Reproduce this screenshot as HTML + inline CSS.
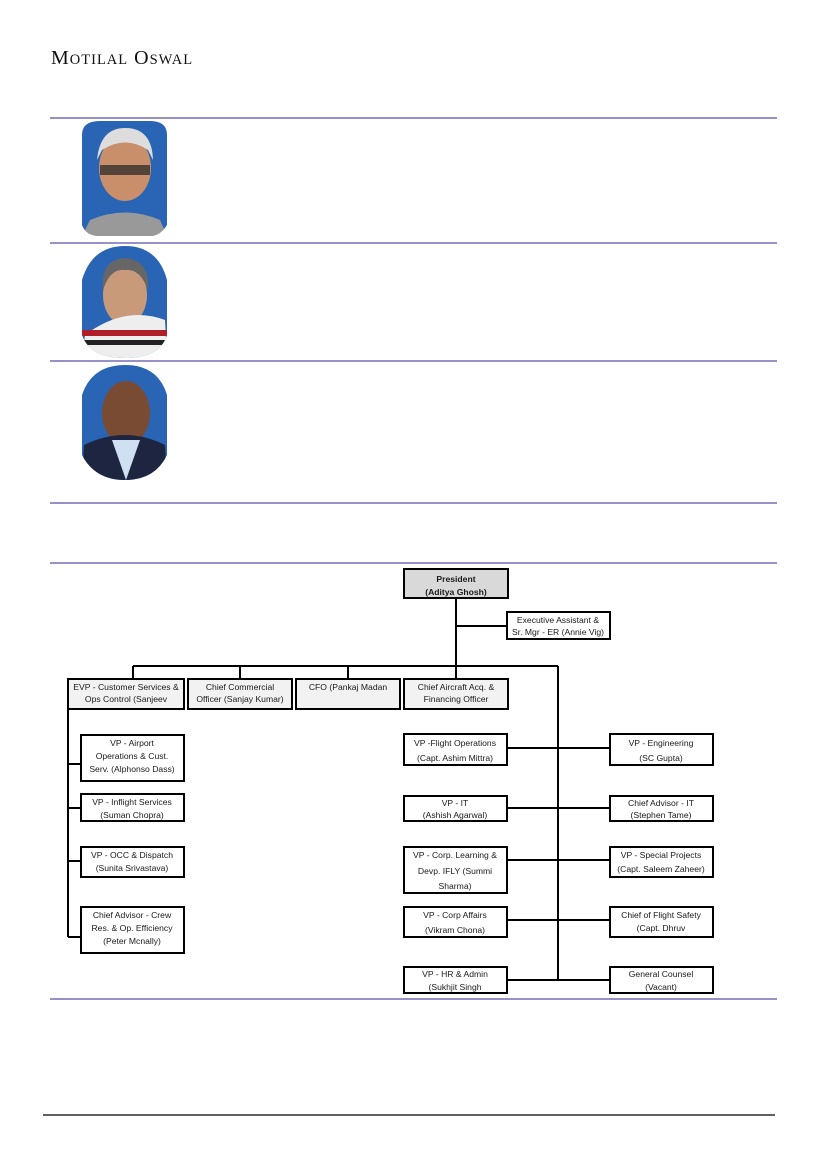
<!DOCTYPE html>
<html><head><meta charset="utf-8"><style>
html,body{margin:0;padding:0;background:#fff;}
svg{display:block}
text{font-family:"Liberation Sans",sans-serif;font-size:8.6px;fill:#1a1a1a;}
.b{fill:#fff;stroke:#000;stroke-width:2}
.g{fill:#f2f2f2;stroke:#000;stroke-width:2}
.l{stroke:#000;stroke-width:2;fill:none}
.r{stroke:#5a4fa8;stroke-width:1.3}
</style></head><body>
<svg width="827" height="1169" viewBox="0 0 827 1169" xmlns="http://www.w3.org/2000/svg">
<text x="51" y="64" style="font-family:'Liberation Serif',serif;font-size:20px;fill:#111;letter-spacing:1px">M<tspan style="font-size:14.5px">OTILAL</tspan> O<tspan style="font-size:14.5px">SWAL</tspan></text>
<g class="r">
<line x1="50" y1="118" x2="777" y2="118"/>
<line x1="50" y1="243" x2="777" y2="243"/>
<line x1="50" y1="361" x2="777" y2="361"/>
<line x1="50" y1="503" x2="777" y2="503"/>
<line x1="50" y1="563" x2="777" y2="563"/>
<line x1="50" y1="999" x2="777" y2="999"/>
</g>
<line x1="43" y1="1115" x2="775" y2="1115" stroke="#000" stroke-width="1.3"/>
<defs>
<clipPath id="p1"><path d="M82 135 Q82 121 100 121 L150 121 Q167 121 167 135 L167 225 Q160 236 150 236 L100 236 Q86 236 82 225Z"/></clipPath>
<clipPath id="p2"><path d="M82 280 Q92 246 125 246 Q158 246 167 280 L167 335 Q160 358 125 358 Q90 358 82 335Z"/></clipPath>
<clipPath id="p3"><path d="M82 395 Q92 365 125 365 Q158 365 167 395 L167 455 Q155 480 125 480 Q95 480 82 455Z"/></clipPath>
</defs>
<g clip-path="url(#p1)"><rect x="82" y="121" width="85" height="115" fill="#2a65b5"/>
<ellipse cx="125" cy="168" rx="26" ry="33" fill="#c98f6b"/><path d="M97 160 Q100 128 125 128 Q152 128 153 160 L148 150 Q125 135 102 150Z" fill="#ddd"/>
<rect x="100" y="165" width="50" height="10" fill="#222" opacity=".7"/>
<path d="M82 236 L90 220 Q125 205 160 220 L167 236Z" fill="#999"/></g>
<g clip-path="url(#p2)"><rect x="82" y="246" width="85" height="112" fill="#2a65b5"/>
<ellipse cx="125" cy="295" rx="22" ry="30" fill="#c99a7a"/><path d="M103 290 Q100 260 125 258 Q150 260 148 290 Q140 268 125 270 Q110 268 103 290Z" fill="#666"/>
<path d="M82 358 L85 335 Q125 305 165 320 L167 358Z" fill="#eee"/>
<rect x="82" y="330" width="85" height="6" fill="#b01e2a"/><rect x="82" y="340" width="85" height="5" fill="#222"/></g>
<g clip-path="url(#p3)"><rect x="82" y="365" width="85" height="115" fill="#2a65b5"/>
<ellipse cx="126" cy="413" rx="24" ry="32" fill="#7a4b33"/>
<path d="M82 480 L84 445 Q125 425 165 445 L167 480Z" fill="#1d2540"/><path d="M112 440 L126 480 L140 440Z" fill="#cfe0f3"/></g>
<g class="l">
<line x1="456" y1="598" x2="456" y2="679"/>
<line x1="456" y1="626" x2="507" y2="626"/>
<line x1="133" y1="666" x2="558" y2="666"/>
<line x1="133" y1="666" x2="133" y2="679"/>
<line x1="240" y1="666" x2="240" y2="679"/>
<line x1="348" y1="666" x2="348" y2="679"/>
<line x1="558" y1="666" x2="558" y2="980"/>
<line x1="68" y1="709" x2="68" y2="937"/>
<line x1="68" y1="764" x2="81" y2="764"/>
<line x1="68" y1="808" x2="81" y2="808"/>
<line x1="68" y1="861" x2="81" y2="861"/>
<line x1="68" y1="937" x2="81" y2="937"/>
<line x1="507" y1="748" x2="610" y2="748"/>
<line x1="507" y1="808" x2="610" y2="808"/>
<line x1="507" y1="860" x2="610" y2="860"/>
<line x1="507" y1="920" x2="610" y2="920"/>
<line x1="507" y1="980" x2="610" y2="980"/>
</g>
<rect x="404" y="569" width="104" height="29" fill="#d9d9d9" stroke="#000" stroke-width="2"/>
<text x="456" y="582" text-anchor="middle" font-weight="bold">President</text>
<text x="456" y="595" text-anchor="middle" font-weight="bold">(Aditya Ghosh)</text>
<rect class="b" x="507" y="612" width="103" height="27"/>
<text x="558" y="623" text-anchor="middle">Executive Assistant &amp;</text>
<text x="558" y="635" text-anchor="middle">Sr. Mgr - ER (Annie Vig)</text>
<rect class="g" x="68" y="679" width="116" height="30"/>
<text x="126" y="690" text-anchor="middle">EVP - Customer Services &amp;</text>
<text x="126" y="702" text-anchor="middle">Ops Control (Sanjeev</text>
<rect class="g" x="188" y="679" width="104" height="30"/>
<text x="240" y="690" text-anchor="middle">Chief Commercial</text>
<text x="240" y="702" text-anchor="middle">Officer (Sanjay Kumar)</text>
<rect class="g" x="296" y="679" width="104" height="30"/>
<text x="348" y="690" text-anchor="middle">CFO (Pankaj Madan</text>
<rect class="g" x="404" y="679" width="104" height="30"/>
<text x="456" y="690" text-anchor="middle">Chief Aircraft Acq. &amp;</text>
<text x="456" y="702" text-anchor="middle">Financing Officer</text>
<rect class="b" x="81" y="735" width="103" height="46"/>
<text x="132" y="746" text-anchor="middle">VP - Airport</text>
<text x="132" y="759" text-anchor="middle">Operations &amp; Cust.</text>
<text x="132" y="772" text-anchor="middle">Serv. (Alphonso Dass)</text>
<rect class="b" x="81" y="794" width="103" height="27"/>
<text x="132" y="805" text-anchor="middle">VP - Inflight Services</text>
<text x="132" y="818" text-anchor="middle">(Suman Chopra)</text>
<rect class="b" x="81" y="847" width="103" height="30"/>
<text x="132" y="858" text-anchor="middle">VP - OCC &amp; Dispatch</text>
<text x="132" y="871" text-anchor="middle">(Sunita Srivastava)</text>
<rect class="b" x="81" y="907" width="103" height="46"/>
<text x="132" y="918" text-anchor="middle">Chief Advisor - Crew</text>
<text x="132" y="931" text-anchor="middle">Res. &amp; Op. Efficiency</text>
<text x="132" y="944" text-anchor="middle">(Peter Mcnally)</text>
<rect class="b" x="404" y="734" width="103" height="31"/>
<text x="455" y="746" text-anchor="middle">VP -Flight Operations</text>
<text x="455" y="761" text-anchor="middle">(Capt. Ashim Mittra)</text>
<rect class="b" x="404" y="796" width="103" height="25"/>
<text x="455" y="806" text-anchor="middle">VP - IT</text>
<text x="455" y="818" text-anchor="middle">(Ashish Agarwal)</text>
<rect class="b" x="404" y="847" width="103" height="46"/>
<text x="455" y="858" text-anchor="middle">VP  - Corp. Learning &amp;</text>
<text x="455" y="874" text-anchor="middle">Devp. IFLY (Summi</text>
<text x="455" y="889" text-anchor="middle">Sharma)</text>
<rect class="b" x="404" y="907" width="103" height="30"/>
<text x="455" y="918" text-anchor="middle">VP - Corp Affairs</text>
<text x="455" y="933" text-anchor="middle">(Vikram Chona)</text>
<rect class="b" x="404" y="967" width="103" height="26"/>
<text x="455" y="977" text-anchor="middle">VP - HR &amp; Admin</text>
<text x="455" y="990" text-anchor="middle">(Sukhjit Singh</text>
<rect class="b" x="610" y="734" width="103" height="31"/>
<text x="661" y="746" text-anchor="middle">VP - Engineering</text>
<text x="661" y="761" text-anchor="middle">(SC Gupta)</text>
<rect class="b" x="610" y="796" width="103" height="25"/>
<text x="661" y="806" text-anchor="middle">Chief Advisor - IT</text>
<text x="661" y="818" text-anchor="middle">(Stephen Tame)</text>
<rect class="b" x="610" y="847" width="103" height="30"/>
<text x="661" y="858" text-anchor="middle">VP - Special Projects</text>
<text x="661" y="872" text-anchor="middle">(Capt. Saleem Zaheer)</text>
<rect class="b" x="610" y="907" width="103" height="30"/>
<text x="661" y="918" text-anchor="middle">Chief of Flight Safety</text>
<text x="661" y="931" text-anchor="middle">(Capt. Dhruv</text>
<rect class="b" x="610" y="967" width="103" height="26"/>
<text x="661" y="977" text-anchor="middle">General Counsel</text>
<text x="661" y="990" text-anchor="middle">(Vacant)</text>
</svg>
</body></html>
